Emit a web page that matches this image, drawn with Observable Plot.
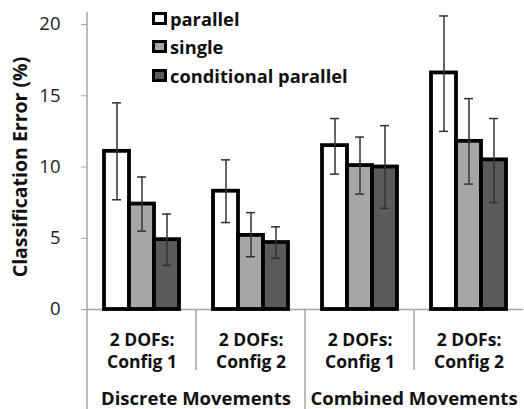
<!DOCTYPE html>
<html><head><meta charset="utf-8">
<script src="https://cdn.jsdelivr.net/npm/d3@7"></script>
<script src="https://cdn.jsdelivr.net/npm/@observablehq/plot@0.6"></script>
<style>
body{margin:0;background:#fff;font-family:"Open Sans",sans-serif}
#wrap{position:relative;width:524px;height:409px}
.legend{position:absolute;left:152px;top:4px;font-weight:700;font-size:18.3px;color:#111}
.legend .row{display:flex;align-items:center;height:28.5px}
.legend .sw{box-sizing:border-box;width:15px;height:13px;border:3.5px solid #000;margin-right:3px}
</style></head>
<body><div id="wrap"></div>
<script>
const categories = ["Discrete|Config 1", "Discrete|Config 2", "Combined|Config 1", "Combined|Config 2"];
const groups = ["Discrete Movements", "Combined Movements"];
const series = ["parallel", "single", "conditional parallel"];
const seriesFill = ["#ffffff", "#a6a6a6", "#5a5a5a"];
const parallelMean = [11.1, 8.3, 11.5, 16.6];
const parallelLow  = [7.7, 6.1, 9.5, 12.5];
const parallelHigh = [14.5, 10.5, 13.4, 20.6];
const singleMean = [7.4, 5.2, 10.1, 11.8];
const singleLow  = [5.5, 3.7, 8.1, 8.8];
const singleHigh = [9.3, 6.8, 12.1, 14.8];
const condMean = [4.9, 4.7, 10.0, 10.5];
const condLow  = [3.1, 3.6, 7.1, 7.5];
const condHigh = [6.7, 5.8, 12.9, 13.4];
const yTicks = [0, 5, 10, 15, 20];

const seriesData = [[parallelMean, parallelLow, parallelHigh], [singleMean, singleLow, singleHigh], [condMean, condLow, condHigh]];
const data = [];
categories.forEach((c, i) => series.forEach((s, j) => {
  const [m, lo, hi] = seriesData[j];
  data.push({cat: c, series: s, value: m[i], low: lo[i], high: hi[i]});
}));

const chart = Plot.plot({
  width: 524, height: 409,
  marginLeft: 86, marginRight: 0, marginTop: 24, marginBottom: 100,
  style: {fontFamily: "'Open Sans', sans-serif", background: "#fff"},
  fx: {domain: categories, padding: 0},
  x: {domain: series, paddingInner: 0, paddingOuter: 0.67, axis: null},
  y: {domain: [0, 20]},
  color: {domain: series, range: seriesFill},
  marks: [
    Plot.ruleY([0], {stroke: "#a6a6a6", strokeWidth: 1.5}),
    Plot.barY(data, {fx: "cat", x: "series", y: "value", fill: "series", stroke: "#000", strokeWidth: 3.8}),
    Plot.ruleX(data, {fx: "cat", x: "series", y1: "low", y2: "high", stroke: "#333", strokeWidth: 1.5}),
    Plot.tickY(data, {fx: "cat", x: "series", y: "low", insetLeft: 8, insetRight: 8, stroke: "#333", strokeWidth: 1.5}),
    Plot.tickY(data, {fx: "cat", x: "series", y: "high", insetLeft: 8, insetRight: 8, stroke: "#333", strokeWidth: 1.5}),
    Plot.axisY({ticks: yTicks, tickSize: 6, tickPadding: 21, fontSize: 18.5, stroke: "#a6a6a6", fill: "#222", label: null}),
    Plot.axisY({ticks: [], label: "Classification Error (%)", labelArrow: "none", labelAnchor: "center", labelOffset: 74, fontSize: 19.5, fontWeight: "bold", fill: "#111"}),
    Plot.axisFx({anchor: "bottom", tickSize: 0, tickPadding: 21, fontSize: 17.5, fontWeight: "bold", lineHeight: 1.25, fill: "#111",
      tickFormat: d => "2 DOFs:\n" + d.split("|")[1], label: null})
  ]
});

const wrap = document.getElementById("wrap");
wrap.appendChild(chart);

// separators, y axis line and group labels from the plot's own scales
const fx = chart.scale("fx"), y = chart.scale("y");
const svg = d3.select(chart);
const bw = fx.bandwidth;
const x0 = fx.apply(categories[0]);
const yTop = y.apply(20) - 12, y0 = y.apply(0), H = 409;
const g = svg.append("g").attr("stroke", "#a6a6a6").attr("stroke-width", 1.5);
g.append("line").attr("x1", x0).attr("x2", x0).attr("y1", yTop).attr("y2", H);
categories.slice(1).forEach((c, i) => {
  const xx = fx.apply(c);
  g.append("line").attr("x1", xx).attr("x2", xx).attr("y1", y0).attr("y2", i % 2 === 0 ? y0 + 61 : H);
});
groups.forEach((name, i) => {
  const a = fx.apply(categories[i * 2]), b = fx.apply(categories[i * 2 + 1]) + bw;
  svg.append("text").attr("x", (a + b) / 2).attr("y", 405).attr("text-anchor", "middle")
    .attr("font-size", 18.5).attr("font-weight", "bold").attr("fill", "#111").text(name);
});

// legend
const leg = document.createElement("div");
leg.className = "legend";
series.forEach((s, i) => {
  const r = document.createElement("div"); r.className = "row";
  const sw = document.createElement("span"); sw.className = "sw"; sw.style.background = seriesFill[i];
  const t = document.createElement("span"); t.textContent = s;
  r.appendChild(sw); r.appendChild(t); leg.appendChild(r);
});
wrap.appendChild(leg);
</script></body></html>
